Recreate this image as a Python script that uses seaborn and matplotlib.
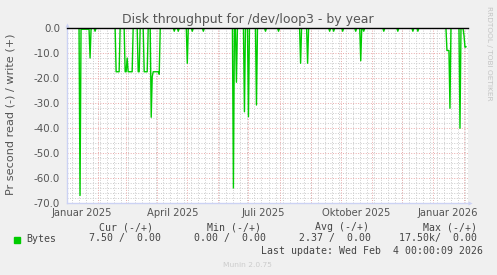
import numpy as np
import pandas as pd
import matplotlib
matplotlib.use("Agg")
import matplotlib.pyplot as plt
import matplotlib.dates as mdates
from matplotlib.ticker import MultipleLocator
import seaborn as sns

# ---- data (read values, per day; write is 0) ----
series_start = "2025-01-13"
series_end = "2026-02-03"
spike_dates = [
    "2025-01-14", "2025-01-15", "2025-01-16", "2025-01-17", "2025-01-18",
    "2025-01-19", "2025-01-20", "2025-01-21", "2025-01-22", "2025-01-23",
    "2025-01-24", "2025-01-25", "2025-01-29",
    "2025-02-19", "2025-02-20", "2025-02-21", "2025-02-22",
    "2025-02-28", "2025-03-01", "2025-03-02", "2025-03-03", "2025-03-04",
    "2025-03-05", "2025-03-06", "2025-03-07",
    "2025-03-13", "2025-03-14",
    "2025-03-19", "2025-03-20", "2025-03-21", "2025-03-22",
    "2025-03-26", "2025-03-27",
    "2025-03-28", "2025-03-29", "2025-03-30", "2025-03-31", "2025-04-01",
    "2025-04-02", "2025-04-03",
    "2025-04-18", "2025-04-22", "2025-05-01", "2025-05-06", "2025-05-17",
    "2025-06-16", "2025-06-19", "2025-06-27", "2025-07-01", "2025-07-09",
    "2025-07-18", "2025-07-31", "2025-08-22", "2025-08-29",
    "2025-09-20", "2025-09-24", "2025-10-03", "2025-10-16", "2025-10-21",
    "2025-10-24", "2025-11-13", "2025-11-27", "2025-12-12", "2025-12-17",
    "2026-01-15", "2026-01-16", "2026-01-17", "2026-01-18", "2026-01-28",
    "2026-02-01", "2026-02-02", "2026-02-03",
]
spike_values = [
    -67.0, -0.5, -0.5, -0.5, -0.5,
    -0.5, -0.5, -0.5, -0.5, -0.5,
    -12.0, -0.5, -1.3,
    -17.5, -17.5, -17.5, -17.5,
    -17.5, -17.5, -12.0, -17.5, -17.5,
    -17.5, -17.5, -17.5,
    -17.5, -17.5,
    -17.5, -17.5, -17.5, -17.5,
    -35.7, -19.5,
    -17.5, -17.5, -17.5, -17.5, -17.5,
    -17.5, -18.5,
    -1.3, -1.3, -14.1, -1.3, -1.3,
    -64.0, -21.7, -33.5, -35.5, -30.8,
    -1.3, -1.3, -14.1, -14.1,
    -1.3, -1.3, -1.3, -1.3, -13.1,
    -1.3, -1.3, -1.3, -1.3, -1.3,
    -9.0, -9.0, -9.0, -32.1, -40.1,
    -3.0, -7.7, -7.5,
]

x_label_dates = ["2025-01-16", "2025-04-16", "2025-07-16", "2025-10-16", "2026-01-16"]
x_label_texts = ["Januar 2025", "April 2025", "Juli 2025", "Oktober 2025", "Januar 2026"]
y_ticks = [0, -10, -20, -30, -40, -50, -60, -70]
x_start, x_end = "2025-01-01", "2026-02-05"

title = "Disk throughput for /dev/loop3 - by year"
ylabel = "Pr second read (-) / write (+)"
legend_name = "Bytes"
legend_cols = ["Cur (-/+)", "Min (-/+)", "Avg (-/+)", "Max (-/+)"]
legend_vals = ["7.50 /  0.00", "0.00 /  0.00", "2.37 /  0.00", "17.50k/  0.00"]
last_update = "Last update: Wed Feb  4 00:00:09 2026"

# ---- build table ----
dates = pd.date_range(series_start, series_end, freq="D")
read = pd.Series(0.0, index=dates)
read.loc[pd.to_datetime(spike_dates)] = spike_values
df = pd.DataFrame({"date": dates, "read": read.values})

W, H = 497, 275
fig = plt.figure(figsize=(W / 100, H / 100), dpi=100, facecolor="#F0F0F0")
ax = fig.add_axes([67 / W, (H - 203) / H, 401 / W, 175 / H])
ax.set_facecolor("white")

# grid
grid_gray = "#CBCBCB"
grid_red = "#E9A9A9"
dot = (0, (1, 1.6))
for w in pd.date_range(x_start, x_end, freq="W-MON"):
    ax.axvline(w, color=grid_gray, lw=0.7, ls=dot, zorder=0)
for m in pd.date_range(x_start, x_end, freq="MS"):
    ax.axvline(m, color=grid_red, lw=0.7, ls=dot, zorder=1)
ax.set_ylim(-70, 0)
ax.set_yticks(y_ticks)
ax.yaxis.set_minor_locator(MultipleLocator(2))
ax.grid(which="minor", axis="y", color=grid_gray, lw=0.7, ls=dot, zorder=0)
ax.grid(which="major", axis="y", color=grid_red, lw=0.7, ls=dot, zorder=1)
ax.set_axisbelow(True)

sns.lineplot(data=df, x="date", y="read", ax=ax, color="#00CC00", lw=1.0,
             estimator=None, legend=False, zorder=3)
ax.axhline(0, color="black", lw=1.0, zorder=5, clip_on=False)

ax.set_xlim(pd.Timestamp(x_start), pd.Timestamp(x_end))
ax.set_xticks([])
ax.set_xlabel("")
ax.set_ylabel("")
for d, t in zip(x_label_dates, x_label_texts):
    ax.text(pd.Timestamp(d), -13 / 175, t, transform=ax.get_xaxis_transform(),
            ha="center", va="baseline", fontsize=7.2, color="#555555")

ax.set_yticklabels([f"{v:.1f}" for v in y_ticks])
ax.tick_params(axis="y", which="both", length=0, pad=5, labelsize=7.4, labelcolor="#555555")

for s in ["top", "right"]:
    ax.spines[s].set_visible(False)
axis_col = "#CCD2F4"
for s in ["left", "bottom"]:
    ax.spines[s].set_color(axis_col)
    ax.spines[s].set_linewidth(1.0)
ax.plot([1.004], [0], marker=">", ms=3, mew=0, color=axis_col, transform=ax.transAxes, clip_on=False)
ax.plot([0], [1.02], marker="^", ms=3, mew=0, color=axis_col, transform=ax.transAxes, clip_on=False)


def ftext(x, y, s, **kw):
    fig.text(x / W, 1 - y / H, s, **kw)


ftext(248, 22.5, title, ha="center", va="baseline", fontsize=9, color="#555555")
ftext(10.5, 114, ylabel, ha="center", va="center", rotation=90, fontsize=8.1, color="#555555")

mono = dict(family="DejaVu Sans Mono", fontsize=7.1, color="#444444", va="baseline", ha="left")
for x, t in zip([98.7, 206.7, 315, 422.7], legend_cols):
    ftext(x, 230.5, t, **mono)
ftext(26.7, 241.5, legend_name, **mono)
for x, t in zip([89, 194.3, 299.3, 399], legend_vals):
    ftext(x, 241.5, t, **mono)
ftext(482.7, 254, last_update, **{**mono, "ha": "right"})

fig.patches.append(plt.Rectangle((14 / W, 1 - 242.7 / H), 6 / W, 6 / H,
                                 transform=fig.transFigure, color="#00CC00"))

ftext(223.3, 267, "Munin 2.0.75", ha="left", va="baseline", fontsize=5.4, color="#CCCCCC")
ftext(489, 53, "RRDTOOL / TOBI OETIKER", ha="center", va="center", rotation=270,
      fontsize=5.3, color="#C4C4C4")

fig.savefig("out.png", dpi=100, facecolor=fig.get_facecolor())
